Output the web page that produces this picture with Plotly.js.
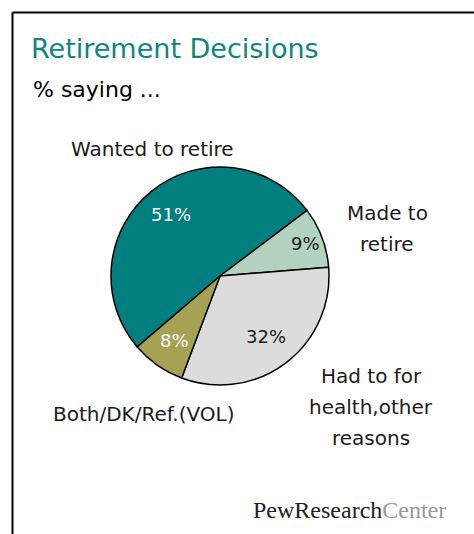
<!DOCTYPE html>
<html>
<head>
<meta charset="utf-8">
<script src="https://cdn.plot.ly/plotly-3.0.1.min.js"></script>
<style>
  html, body { margin: 0; padding: 0; background: #fff; }
  #chart { width: 474px; height: 534px; }
</style>
</head>
<body>
<div id="chart"></div>
<script>
// ---- data ----
var categories = ["Wanted to retire", "Made to<br>retire", "Had to for<br>health,other<br>reasons", "Both/DK/Ref.(VOL)"];
var values = [51, 9, 32, 8];
var sliceColors = ["#007f7e", "#b3d2c0", "#dcdcdc", "#a6a254"];
var pctColors = ["#ffffff", "#1a1a1a", "#1a1a1a", "#ffffff"];
var titleText = "Retirement Decisions";
var subtitleText = "% saying ...";

// ---- style / placement (paper pixels) ----
var W = 474, H = 534;
var CX = 220, CY = 276, R = 109;
var ROT = -130.6;                          // start angle (deg, clockwise from 12 o'clock)
var pctRadius = [0.72, 0.84, 0.70, 0.72];  // label distance as fraction of radius
var labelPos = [[152, 149], [387, 213], [371, 376], [144, 414]]; // centre of first line
var lineGap = 31;
function px(x) { return x / W; }
function py(y) { return 1 - y / H; }

var FONT = "DejaVu Sans, Verdana, sans-serif";

var trace = {
  type: "pie",
  labels: categories.map(function (c) { return c.replace(/<br>/g, " "); }),
  values: values,
  sort: false,
  direction: "clockwise",
  rotation: ROT,
  domain: { x: [px(CX - R), px(CX + R)], y: [py(CY + R), py(CY - R)] },
  marker: { colors: sliceColors, line: { color: "#000000", width: 1.5 } },
  textinfo: "none",
  hoverinfo: "label+value",
  showlegend: false
};

var annotations = [];
// percentage labels placed along each slice's bisector (computed from the values)
var total = values.reduce(function (a, b) { return a + b; }, 0);
var acc = 0;
values.forEach(function (v, i) {
  var mid = (ROT + (acc + v / 2) / total * 360) * Math.PI / 180;
  acc += v;
  var d = R * pctRadius[i];
  annotations.push({
    xref: "paper", yref: "paper",
    x: px(CX + d * Math.sin(mid)), y: py(CY - d * Math.cos(mid)),
    xanchor: "center", yanchor: "middle",
    text: v + "%", showarrow: false,
    font: { family: FONT, size: 18, color: pctColors[i] }
  });
});
categories.forEach(function (c, i) {
  var lines = c.split("<br>");
  lines.forEach(function (ln, j) {
    annotations.push({
      xref: "paper", yref: "paper",
      x: px(labelPos[i][0]), y: py(labelPos[i][1] + j * lineGap),
      xanchor: "center", yanchor: "middle",
      text: ln, showarrow: false,
      font: { family: FONT, size: 20, color: "#1a1a1a" }
    });
  });
});
annotations.push({
  xref: "paper", yref: "paper", x: px(31), y: py(90),
  xanchor: "left", yanchor: "middle", text: subtitleText, showarrow: false,
  font: { family: FONT, size: 22, color: "#000000" }
});
annotations.push({
  xref: "paper", yref: "paper", x: px(349), y: py(510),
  xanchor: "center", yanchor: "middle",
  text: 'PewResearch<span style="color:#9a9a9a">Center</span>', showarrow: false,
  font: { family: "Liberation Serif, Times New Roman, serif", size: 24, color: "#222222" }
});

var layout = {
  width: W, height: H,
  margin: { l: 0, r: 0, t: 0, b: 0 },
  paper_bgcolor: "#ffffff",
  title: {
    text: titleText,
    x: px(31), xanchor: "left", xref: "paper",
    y: py(49), yanchor: "middle", yref: "paper",
    font: { family: FONT, size: 27, color: "#0f8581" }
  },
  annotations: annotations,
  shapes: [
    { type: "line", xref: "paper", yref: "paper", x0: px(12.5), x1: 1, y0: py(12.5), y1: py(12.5), line: { color: "#000", width: 2 } },
    { type: "line", xref: "paper", yref: "paper", x0: px(12.5), x1: px(12.5), y0: py(12.5), y1: 0, line: { color: "#000", width: 2 } }
  ],
  showlegend: false
};

Plotly.newPlot("chart", [trace], layout, { displayModeBar: false, staticPlot: true });
</script>
</body>
</html>
